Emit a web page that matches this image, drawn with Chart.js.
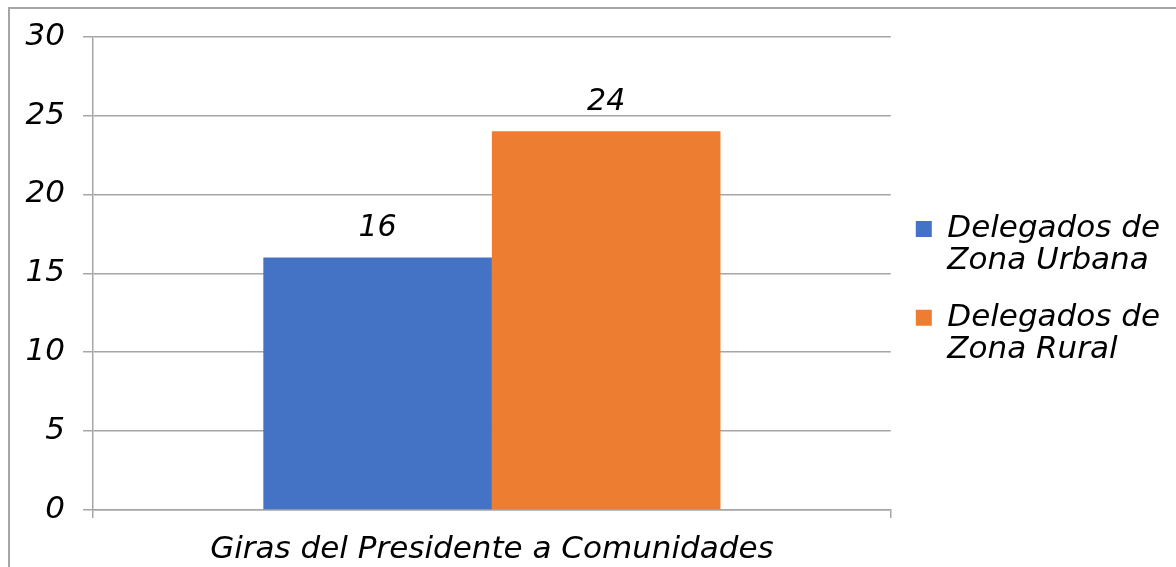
<!DOCTYPE html>
<html>
<head>
<meta charset="utf-8">
<script src="https://cdn.jsdelivr.net/npm/chart.js@4/dist/chart.umd.min.js"></script>
<style>
  html, body { margin: 0; padding: 0; background: #ffffff; overflow: hidden; }
  #frame { position: absolute; left: 8px; top: 7px; width: 1300px; height: 700px;
           border-top: 2px solid #a6a6a6; border-left: 2px solid #a6a6a6; }
  #wrap { position: absolute; left: 0; top: 0; width: 1176px; height: 567px; }
</style>
</head>
<body>
<div id="frame"></div>
<div id="wrap"><canvas id="c" width="1176" height="567"></canvas></div>
<script>
const categories = ["Giras del Presidente a Comunidades"];
const seriesNames = [["Delegados de", "Zona Urbana"], ["Delegados de", "Zona Rural"]];
const urbanValues = [16];
const ruralValues = [24];
const seriesColors = ["#4472C4", "#ED7D31"];
const yTicks = [0, 5, 10, 15, 20, 25, 30];

const FONT = "'DejaVu Sans', sans-serif";
const PLOT_RIGHT = 891;

const valueLabels = {
  id: 'valueLabels',
  afterDatasetsDraw(chart) {
    const ctx = chart.ctx;
    ctx.save();
    ctx.font = "italic 30px " + FONT;
    ctx.fillStyle = "#000";
    ctx.textAlign = "center";
    ctx.textBaseline = "middle";
    chart.data.datasets.forEach((ds, di) => {
      const meta = chart.getDatasetMeta(di);
      meta.data.forEach((el, i) => {
        ctx.fillText(String(ds.data[i]), el.x, el.y - 29);
      });
    });
    ctx.restore();
  }
};

const chart = new Chart(document.getElementById('c'), {
  type: 'bar',
  data: {
    labels: categories,
    datasets: [
      { label: seriesNames[0], data: urbanValues, backgroundColor: seriesColors[0] },
      { label: seriesNames[1], data: ruralValues, backgroundColor: seriesColors[1] }
    ]
  },
  options: {
    responsive: false,
    animation: false,
    devicePixelRatio: 1,
    layout: { padding: { left: 0, right: 0, top: 36, bottom: 0 } },
    datasets: { bar: { categoryPercentage: 0.573, barPercentage: 1.0 } },
    plugins: {
      tooltip: { enabled: false },
      legend: {
        position: 'right',
        align: 'start',
        title: { display: true, text: '', padding: { top: 152.5, bottom: 0 }, font: { size: 1, lineHeight: 0 } },
        labels: {
          boxWidth: 16,
          boxHeight: 16,
          padding: 25,
          color: '#000',
          font: { family: FONT, size: 31, style: 'italic', lineHeight: 1.03 },
          generateLabels(chart) {
            return chart.data.datasets.map((ds, i) => ({
              text: ds.label,
              fillStyle: ds.backgroundColor,
              strokeStyle: ds.backgroundColor,
              fontColor: '#000',
              lineWidth: 0,
              datasetIndex: i,
              hidden: false
            }));
          }
        }
      }
    },
    scales: {
      x: {
        afterFit(scale) { scale.height = 57; },
        grid: { display: true, drawOnChartArea: false, drawTicks: true, tickLength: 8, color: '#a6a6a6', lineWidth: 1.5 },
        border: { display: true, color: '#a6a6a6', width: 1.5 },
        ticks: { color: '#000', padding: 13, font: { family: FONT, size: 31, style: 'italic' } }
      },
      y: {
        min: 0,
        max: 30,
        afterFit(scale) { scale.width = 93; },
        afterBuildTicks(scale) { scale.ticks = yTicks.map(v => ({ value: v })); },
        grid: { display: true, drawTicks: true, tickLength: 10, color: '#a6a6a6', lineWidth: 1.5 },
        border: { display: true, color: '#a6a6a6', width: 1.5 },
        ticks: { color: '#000', padding: 18, font: { family: FONT, size: 31, style: 'italic' } }
      }
    }
  },
  plugins: [valueLabels]
});

// make the plot area end where the reference's does, keeping the legend just right of it
const extra = Math.round(chart.chartArea.right - PLOT_RIGHT);
if (extra !== 0) {
  chart.options.layout.padding.right = Math.max(0, extra);
  chart.update('none');
}
</script>
</body>
</html>
